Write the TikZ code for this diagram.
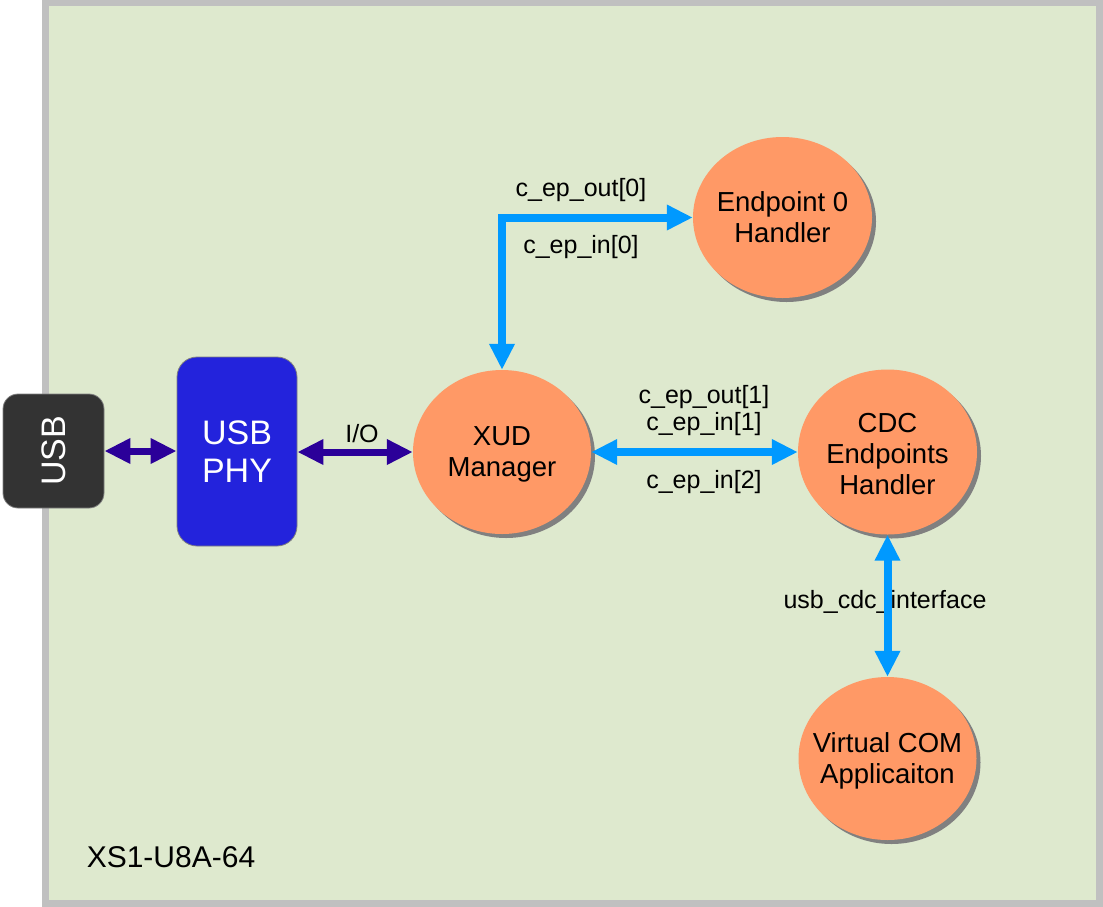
\documentclass[tikz,border=0pt]{standalone}
\usepackage{fontspec}
\setmainfont{Liberation Sans}
\usetikzlibrary{arrows.meta,shapes.geometric,shadows}
\definecolor{bgGreen}{RGB}{222,233,206}
\definecolor{frameGray}{RGB}{192,192,192}
\definecolor{salmon}{RGB}{255,153,102}
\definecolor{chanBlue}{RGB}{0,153,255}
\definecolor{ioPurple}{RGB}{43,0,153}
\definecolor{phyBlue}{RGB}{35,35,220}
\definecolor{usbDark}{RGB}{51,51,51}
\definecolor{shadowGray}{RGB}{128,128,128}
\begin{document}
\begin{tikzpicture}[x=1pt,y=-1pt,
  proc/.style={ellipse, fill=salmon, inner sep=0pt,
    drop shadow={shadow xshift=4pt, shadow yshift=-4pt, fill=shadowGray, opacity=1}},
  proctext/.style={inner sep=0pt, align=center, yshift=-2.5pt,
    font=\fontsize{27.5}{31}\selectfont},
  lbl/.style={inner sep=0pt, font=\fontsize{25}{29}\selectfont},
  chan/.style={draw=chanBlue, line width=8pt,
    {Triangle[width=24pt,length=26pt]}-{Triangle[width=24pt,length=26pt]}},
  iolink/.style={draw=ioPurple, line width=7pt,
    {Triangle[width=24pt,length=26pt]}-{Triangle[width=24pt,length=26pt]}}]
\useasboundingbox (0,0) rectangle (1103,906);
\draw[fill=bgGreen, draw=frameGray, line width=6.5pt] (45.5,3) rectangle (1099.5,903.5);

\node[rounded corners=15pt, fill=usbDark, draw=gray, line width=0.8pt,
  minimum width=101pt, minimum height=114pt, inner sep=0pt] (usb) at (53.5,451) {};
\node[rotate=90, text=white, font=\fontsize{34}{38}\selectfont, inner sep=0pt] (usbtxt) at (usb.center) {USB};

\node[rounded corners=20pt, fill=phyBlue, draw=gray, line width=0.8pt,
  minimum width=120pt, minimum height=189pt, inner sep=0pt, text=white,
  align=center, font=\fontsize{34}{38}\selectfont] (phy) at (237,451.5) {USB\\PHY};

\node[proc, minimum width=178pt, minimum height=164pt,
  label={[proctext]center:XUD\\Manager}] (xud) at (502,452) {};
\node[proc, minimum width=179pt, minimum height=161pt,
  label={[proctext,yshift=3pt]center:Endpoint 0\\Handler}] (ep0) at (782.5,217.5) {};
\node[proc, minimum width=179pt, minimum height=165pt,
  label={[proctext]center:CDC\\Endpoints\\Handler}] (cdc) at (887.5,452) {};
\node[proc, minimum width=178pt, minimum height=163pt,
  label={[proctext]center:Virtual COM\\Applicaiton}] (vcom) at (887.5,758.5) {};

\node[lbl] (lio) at (362,434) {I/O};
\node[lbl] (lout0) at (581,190.5) {c\_ep\_out[0]};
\node[lbl] (lin0) at (581,247.5) {c\_ep\_in[0]};
\node[lbl] (lout1) at (704,397) {c\_ep\_out[1]};
\node[lbl] (lin1) at (704,424.5) {c\_ep\_in[1]};
\node[lbl] (lin2) at (704,482) {c\_ep\_in[2]};
\node[lbl] (lcdc) at (885,602) {usb\_cdc\_interface};
\node[inner sep=0pt, font=\fontsize{30}{34}\selectfont] (chip) at (171,857) {XS1-U8A-64};

\draw[iolink] (usb.east) -- (phy.west |- usb.east);
\draw[iolink] (phy.east |- xud.west) -- (xud.west);
\draw[chan] (xud.north) |- (ep0.west);
\draw[chan] (xud.east) -- (cdc.west);
\draw[chan] (cdc.south) -- (vcom.north);
\end{tikzpicture}
\end{document}
